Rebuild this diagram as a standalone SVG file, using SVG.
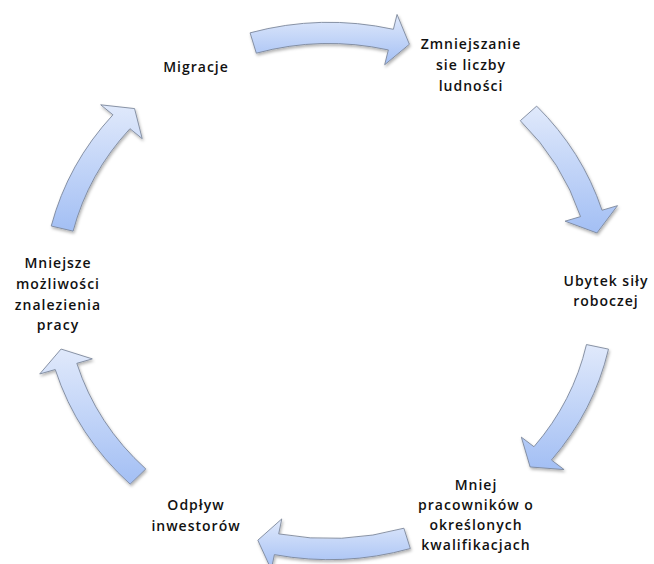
<svg xmlns="http://www.w3.org/2000/svg" width="654" height="564" viewBox="0 0 654 564">
<defs>
<linearGradient id="g" x1="0" y1="0" x2="0" y2="1">
<stop offset="0" stop-color="#e0e9fb"/>
<stop offset="1" stop-color="#a3bff4"/>
</linearGradient>
<filter id="sh" x="-20%" y="-20%" width="140%" height="140%">
<feDropShadow dx="1" dy="2" stdDeviation="1.5" flood-color="#000" flood-opacity="0.3"/>
</filter>
</defs>
<style>
.arr{fill:url(#g);stroke:#7d889c;stroke-width:0.9;filter:url(#sh)}
.t{font-family:"Open Sans","Liberation Sans",sans-serif;font-size:14px;font-weight:600;letter-spacing:1px;fill:#111;text-anchor:middle}
</style>
<rect width="654" height="564" fill="#fff"/>
<g id="connectors">
<path class="arr" d="M250.09,32.83 A286.275,268.578 0 0 1 393.40,29.31 L397.05,14.47 L409.40,44.27 L384.68,64.75 L388.33,49.92 A263.725,247.422 0 0 0 256.31,53.16 Z"/>
<path class="arr" d="M536.66,106.12 A286.275,268.578 0 0 1 602.03,210.24 L617.50,205.66 L596.95,232.96 L565.05,221.18 L580.52,216.60 A263.725,247.422 0 0 0 520.30,120.69 Z"/>
<path class="arr" d="M608.49,349.13 A286.275,268.578 0 0 1 551.48,460.02 L564.09,469.60 L530.12,466.96 L521.34,437.13 L533.96,446.71 A263.725,247.422 0 0 0 586.47,344.55 Z"/>
<path class="arr" d="M410.31,548.52 A286.275,268.578 0 0 1 274.38,554.64 L271.28,569.59 L257.82,540.21 L281.77,518.93 L278.68,533.88 A263.725,247.422 0 0 0 403.90,528.23 Z"/>
<path class="arr" d="M130.14,484.20 A286.275,268.578 0 0 1 55.24,369.52 L39.72,373.97 L61.05,349.04 L92.32,358.89 L76.80,363.34 A263.725,247.422 0 0 0 145.80,468.98 Z"/>
<path class="arr" d="M51.23,226.03 A286.275,268.578 0 0 1 112.95,114.80 L100.70,104.81 L134.55,108.57 L142.21,138.66 L129.96,128.68 A263.725,247.422 0 0 0 73.11,231.14 Z"/>
</g>
<g id="n1"><text class="t" x="196" y="72">Migracje</text></g>
<g id="n2"><text class="t" x="471" y="49">Zmniejszanie</text><text class="t" x="471" y="70">sie liczby</text><text class="t" x="471" y="91">ludności</text></g>
<g id="n3"><text class="t" x="606" y="286">Ubytek siły</text><text class="t" x="606" y="306">roboczej</text></g>
<g id="n4"><text class="t" x="476" y="490">Mniej</text><text class="t" x="476" y="510">pracowników o</text><text class="t" x="476" y="530">określonych</text><text class="t" x="476" y="550">kwalifikacjach</text></g>
<g id="n5"><text class="t" x="196" y="510">Odpływ</text><text class="t" x="196" y="531">inwestorów</text></g>
<g id="n6"><text class="t" x="58" y="268">Mniejsze</text><text class="t" x="58" y="289">możliwości</text><text class="t" x="58" y="310">znalezienia</text><text class="t" x="58" y="330">pracy</text></g>
</svg>
